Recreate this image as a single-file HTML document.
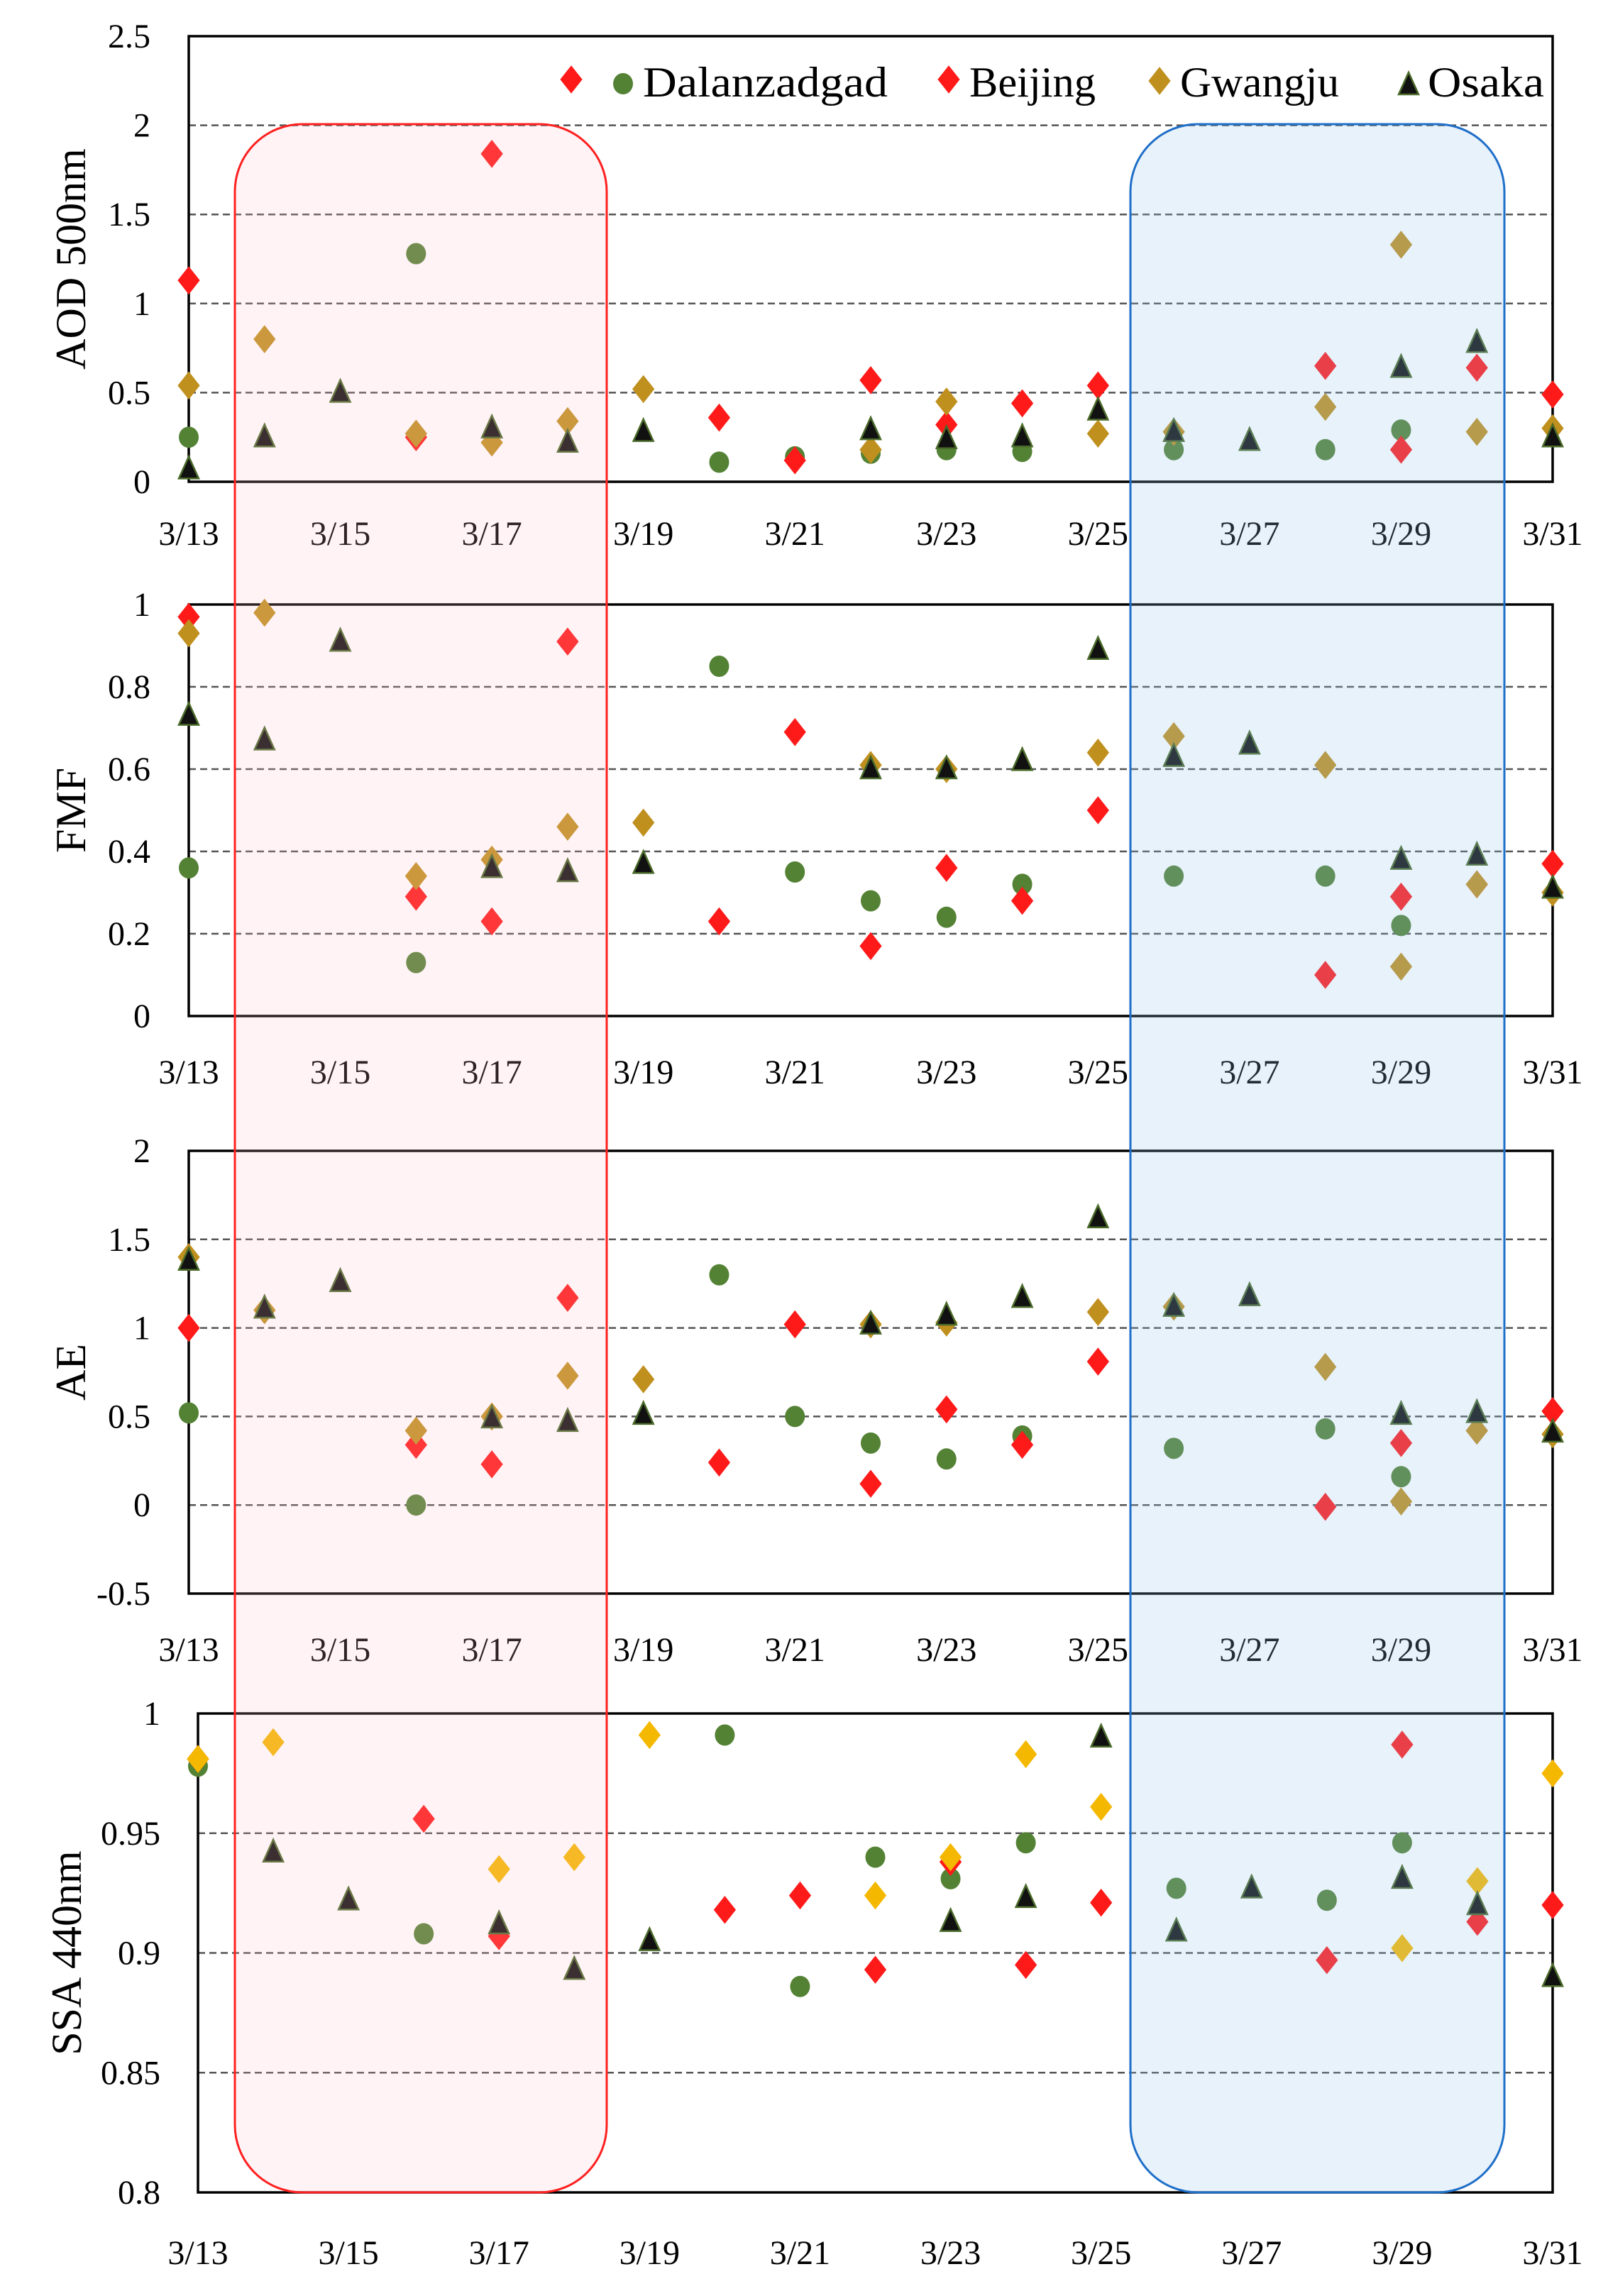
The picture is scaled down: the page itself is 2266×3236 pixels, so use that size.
<!DOCTYPE html>
<html><head><meta charset="utf-8"><style>
html,body{margin:0;padding:0;background:#fff}
svg{display:block}
text{font-family:"Liberation Serif",serif;fill:#000}
</style></head><body>
<svg id="chart" width="2266" height="3236" viewBox="0 0 2266 3236" xmlns="http://www.w3.org/2000/svg"></svg>
<script>
const dates=["3/13","3/14","3/15","3/16","3/17","3/18","3/19","3/20","3/21","3/22","3/23","3/24","3/25","3/26","3/27","3/28","3/29","3/30","3/31"];
const tickDates=["3/13","3/15","3/17","3/19","3/21","3/23","3/25","3/27","3/29","3/31"];
const N=null;
// AOD 500nm
const aodBeijing=[1.13,N,N,0.25,1.84,N,N,0.36,0.12,0.57,0.32,0.44,0.54,N,N,0.65,0.18,0.64,0.49];
const aodDalan=[0.25,N,N,1.28,N,N,N,0.11,0.14,0.16,0.18,0.17,N,0.18,N,0.18,0.29,N,N];
const aodGwangju=[0.54,0.80,N,0.27,0.22,0.34,0.52,N,N,0.18,0.45,N,0.27,0.28,N,0.42,1.33,0.28,0.30];
const aodOsaka=[0.07,0.25,0.50,N,0.30,0.22,0.28,N,N,0.29,0.24,0.25,0.40,0.28,0.23,N,0.64,0.78,0.25];
// FMF
const fmfBeijing=[0.97,N,N,0.29,0.23,0.91,N,0.23,0.69,0.17,0.36,0.28,0.50,N,N,0.10,0.29,0.32,0.37];
const fmfDalan=[0.36,N,N,0.13,N,N,N,0.85,0.35,0.28,0.24,0.32,N,0.34,N,0.34,0.22,N,N];
const fmfGwangju=[0.93,0.98,N,0.34,0.38,0.46,0.47,N,N,0.61,0.60,N,0.64,0.68,N,0.61,0.12,0.32,0.30];
const fmfOsaka=[0.73,0.67,0.91,N,0.36,0.35,0.37,N,N,0.60,0.60,0.62,0.89,0.63,0.66,N,0.38,0.39,0.31];
// AE
const aeBeijing=[1.0,N,N,0.34,0.23,1.17,N,0.24,1.02,0.12,0.54,0.34,0.81,N,N,-0.01,0.35,0.42,0.53];
const aeDalan=[0.52,N,N,0.0,N,N,N,1.30,0.50,0.35,0.26,0.39,N,0.32,N,0.43,0.16,N,N];
const aeGwangju=[1.40,1.10,N,0.42,0.50,0.73,0.71,N,N,1.02,1.03,N,1.09,1.12,N,0.78,0.02,0.42,0.40];
const aeOsaka=[1.38,1.11,1.26,N,0.49,0.47,0.51,N,N,1.02,1.07,1.17,1.62,1.12,1.18,N,0.51,0.52,0.41];
// SSA 440nm
const ssaBeijing=[0.981,N,N,0.956,0.907,N,N,0.918,0.924,0.893,0.938,0.895,0.921,N,N,0.897,0.987,0.913,0.920];
const ssaDalan=[0.978,N,N,0.908,N,N,N,0.991,0.886,0.940,0.931,0.946,N,0.927,N,0.922,0.946,N,N];
const ssaGwangju=[0.981,0.988,N,N,0.935,0.940,0.991,N,N,0.924,0.940,0.983,0.961,N,N,N,0.902,0.930,0.975];
const ssaOsaka=[N,0.942,0.922,N,0.912,0.893,0.905,N,N,N,0.913,0.923,0.990,0.909,0.927,N,0.931,0.920,0.890];

const aodTicks=[0,0.5,1,1.5,2,2.5];
const fmfTicks=[0,0.2,0.4,0.6,0.8,1];
const aeTicks=[-0.5,0,0.5,1,1.5,2];
const ssaTicks=[0.8,0.85,0.9,0.95,1];

const NS="http://www.w3.org/2000/svg";
const svg=document.getElementById('chart');
function mk(tag,attrs,parent){const e=document.createElementNS(NS,tag);for(const k in attrs)e.setAttribute(k,attrs[k]);(parent||svg).appendChild(e);return e;}

const panels=[
 {key:"aod",title:"AOD 500nm",x0:266,x1:2188,y0:51,y1:679,ticks:aodTicks,lab:752,series:[aodDalan,aodBeijing,aodGwangju,aodOsaka],gw:"#c0901f"},
 {key:"fmf",title:"FMF",x0:266,x1:2188,y0:852,y1:1432,ticks:fmfTicks,lab:1511,series:[fmfDalan,fmfBeijing,fmfGwangju,fmfOsaka],gw:"#c0901f"},
 {key:"ae",title:"AE",x0:266,x1:2188,y0:1622,y1:2246,ticks:aeTicks,lab:2325,series:[aeDalan,aeBeijing,aeGwangju,aeOsaka],gw:"#c0901f"},
 {key:"ssa",title:"SSA 440nm",x0:279,x1:2188,y0:2415,y1:3090,ticks:ssaTicks,lab:3175,series:[ssaDalan,ssaBeijing,ssaGwangju,ssaOsaka],gw:"#f5b800"}
];

function diamond(g,cx,cy,fill,name){const w=15,h=19;const p=mk('polygon',{points:`${cx},${cy-h} ${cx+w},${cy} ${cx},${cy+h} ${cx-w},${cy}`,fill:fill,stroke:fill,'stroke-width':1},g);

return p;}
function circle(g,cx,cy,name){const c=mk('ellipse',{cx:cx,cy:cy,rx:14,ry:15,fill:"#548235"},g);

return c;}
function tri(g,cx,cy,name){const t=mk('polygon',{points:`${cx},${cy-18} ${cx+14},${cy+13} ${cx-14},${cy+13}`,fill:"#111",stroke:"#4a6a2a",'stroke-width':2.5},g);

return t;}

panels.forEach(p=>{
 const g=mk('g',{});
 
 
 const lo=p.ticks[0],hi=p.ticks[p.ticks.length-1];
 const ys=v=>p.y1-(v-lo)/(hi-lo)*(p.y1-p.y0);
 const xs=i=>p.x0+i/(dates.length-1)*(p.x1-p.x0);
 p.ticks.forEach((t,i)=>{
  const y=ys(t);
  if(i>0&&i<p.ticks.length-1){const l=mk('line',{x1:p.x0,x2:p.x1,y1:y,y2:y,stroke:"#555",'stroke-width':2.5,'stroke-dasharray':"10,6"},g);
  
  }
  const tx=mk('text',{x:p.key==="ssa"?226:212,y:y+16,'text-anchor':'end','font-size':48},g);
  tx.textContent=String(t);
  
  
 });
 const r=mk('rect',{x:p.x0,y:p.y0,width:p.x1-p.x0,height:p.y1-p.y0,fill:"none",stroke:"#000",'stroke-width':3.5},g);
 
 
 const tt=mk('text',{x:0,y:0,'text-anchor':'middle','font-size':60,transform:`translate(${p.key==="ssa"?114:120},${(p.y0+p.y1)/2}) rotate(-90)`},g);
 tt.textContent=p.title;
 
 
 tickDates.forEach(d=>{
  const i=dates.indexOf(d);
  const tx=mk('text',{x:xs(i),y:p.lab+16,'text-anchor':'middle','font-size':48},g);
  tx.textContent=d;
  
  
 });
 const [dal,bei,gw,os]=p.series;
 dates.forEach((d,i)=>{
  if(dal[i]!==null)circle(g,xs(i),ys(dal[i]),'dalanzadgad-point');
  if(bei[i]!==null)diamond(g,xs(i),ys(bei[i]),"#ff1a1a",'beijing-point');
  if(gw[i]!==null)diamond(g,xs(i),ys(gw[i]),p.gw,'gwangju-point');
  if(os[i]!==null)tri(g,xs(i),ys(os[i]),'osaka-point');
 });
});

// highlight boxes
const b1=mk('rect',{x:331,y:175,width:524,height:2915,rx:95,ry:95,fill:"rgba(255,190,200,0.18)",stroke:"#ff2020",'stroke-width':3});


const b2=mk('rect',{x:1593,y:175,width:527,height:2915,rx:95,ry:95,fill:"rgba(150,195,235,0.22)",stroke:"#1f6fc8",'stroke-width':3});



// legend
const lg=mk('g',{});


diamond(lg,805,112,"#ff1a1a",'legend-marker');
circle(lg,878,118,'legend-marker-dalanzadgad');
const legendItems=[["Dalanzadgad",906,345],["Beijing",1366,178],["Gwangju",1663,224],["Osaka",2012,164]];
legendItems.forEach(([t,x,w])=>{const e=mk('text',{x:x,y:136,'font-size':60,textLength:w,lengthAdjust:'spacingAndGlyphs'},lg);e.textContent=t;

});
diamond(lg,1337,112,"#ff1a1a",'legend-marker-beijing');
diamond(lg,1634,114,"#c0901f",'legend-marker-gwangju');
tri(lg,1985,120,'legend-marker-osaka');
</script>
</body></html>
